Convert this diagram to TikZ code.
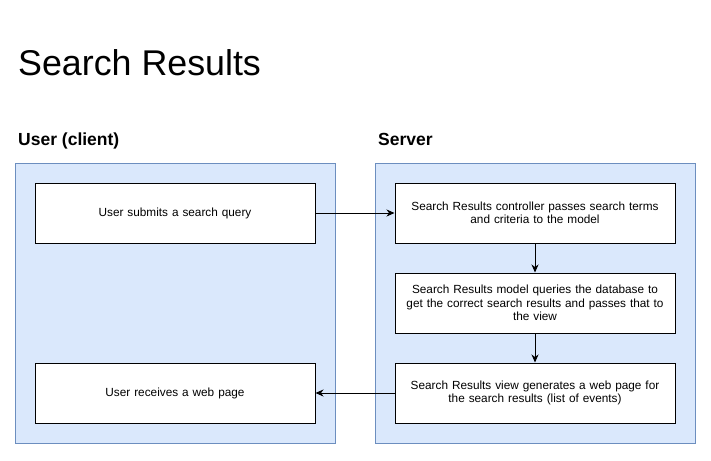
\documentclass[tikz,border=0pt]{standalone}
\usepackage{fontspec}
\setmainfont{Liberation Sans}
\usetikzlibrary{positioning,arrows.meta}
\definecolor{lanefill}{HTML}{DAE8FC}
\definecolor{laneline}{HTML}{6C8EBF}

\tikzset{
  lane/.style={draw=laneline, fill=lanefill, line width=1pt, minimum width=320pt, minimum height=280pt, inner sep=0pt, anchor=north west},
  lanelabel/.style={anchor=base west, inner sep=0pt, font=\bfseries\fontsize{17.5}{20}\selectfont},
  stepbox/.style={draw, fill=white, line width=1pt, minimum width=280pt, minimum height=60pt, text width=270pt, inner sep=0pt, align=center, font=\fontsize{11.8}{13.3}\selectfont},
  flow/.style={line width=1pt, -{Stealth[length=8pt, width=7pt, inset=2.5pt]}}
}

\begin{document}
\begin{tikzpicture}[x=1pt, y=-1pt]
    \useasboundingbox (0,0) rectangle (711,460);

    \node[anchor=base west, inner sep=0pt, font=\fontsize{35.8}{40}\selectfont] (title) at (18,75) {Search Results};

    \node[lanelabel] (clientlabel) at (18,145) {User (client)};
    \node[lanelabel] (serverlabel) at (378,145) {Server};

    \node[lane] (client) at (15,163) {};
    \node[lane] (server) at (375,163) {};

    \node[stepbox] (submit) at (175,213) {User submits a search query};
    \node[stepbox] (receive) at (175,393) {User receives a web page};

    \node[stepbox] (controller) at (535,213) {Search Results controller passes search terms\\ and criteria to the model};
    \node[stepbox, on grid, below=90pt of controller] (model) {Search Results model queries the database to\\ get the correct search results and passes that to\\ the view};
    \node[stepbox, on grid, below=90pt of model] (view) {Search Results view generates a web page for\\ the search results (list of events)};

    % request goes down the server side, page comes back
    \draw[flow] (submit) -- (controller);
    \draw[flow] (controller) -- (model);
    \draw[flow] (model) -- (view);
    \draw[flow] (view) -- (receive);

\end{tikzpicture}
\end{document}
